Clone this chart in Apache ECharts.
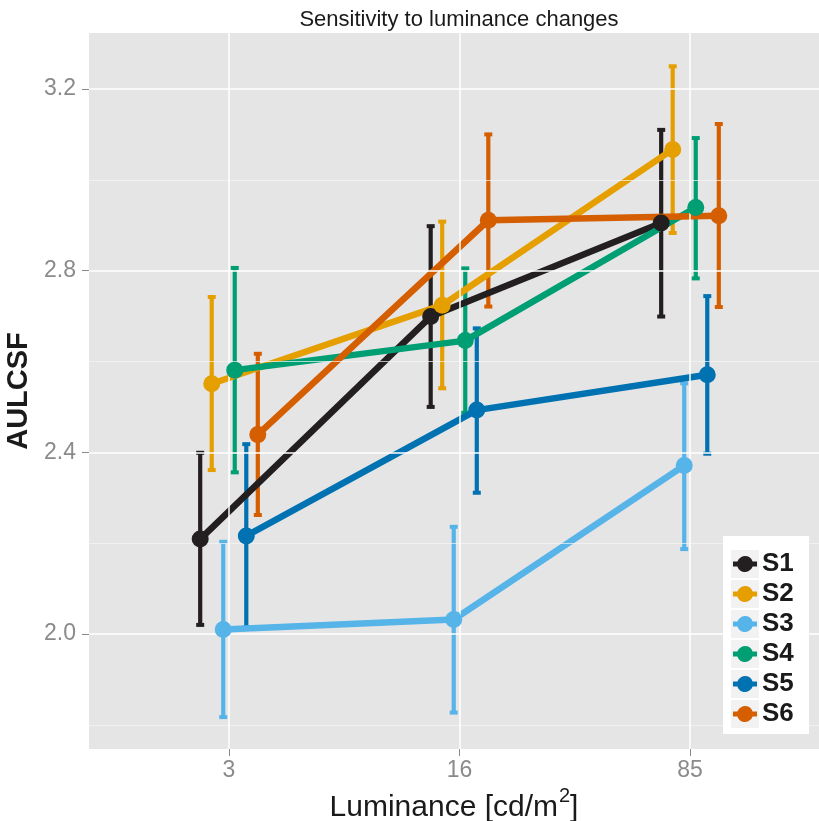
<!DOCTYPE html>
<html><head><meta charset="utf-8">
<script src="https://cdn.jsdelivr.net/npm/echarts@6/dist/echarts.min.js"></script>
<style>html,body{margin:0;padding:0;background:#fff}#c{width:819px;height:821px}</style>
</head><body><div id="c"></div>
<script>
// ---- data ----
const luminance = ['3', '16', '85'];
const subjects = ['S1', 'S2', 'S3', 'S4', 'S5', 'S6'];
const colors = ['#231F20', '#E69F00', '#56B4E9', '#009E73', '#0072B2', '#D55E00'];

const S1_mean = [2.209, 2.699, 2.905];
const S1_low  = [2.020, 2.500, 2.699];
const S1_high = [2.399, 2.898, 3.110];

const S2_mean = [2.551, 2.724, 3.067];
const S2_low  = [2.361, 2.541, 2.883];
const S2_high = [2.742, 2.908, 3.250];

const S3_mean = [2.010, 2.032, 2.371];
const S3_low  = [1.817, 1.827, 2.187];
const S3_high = [2.203, 2.236, 2.552];

const S4_mean = [2.581, 2.646, 2.939];
const S4_low  = [2.356, 2.487, 2.783];
const S4_high = [2.806, 2.805, 3.092];

const S5_mean = [2.216, 2.493, 2.571];
const S5_low  = [2.014, 2.311, 2.397];
const S5_high = [2.418, 2.673, 2.744];

const S6_mean = [2.439, 2.911, 2.921];
const S6_low  = [2.262, 2.721, 2.720];
const S6_high = [2.617, 3.100, 3.123];

const yMajorTicks = [2.0, 2.4, 2.8, 3.2];
const yMinorTicks = [1.8, 2.2, 2.6, 3.0];

const means = [S1_mean, S2_mean, S3_mean, S4_mean, S5_mean, S6_mean];
const lows  = [S1_low, S2_low, S3_low, S4_low, S5_low, S6_low];
const highs = [S1_high, S2_high, S3_high, S4_high, S5_high, S6_high];

// ---- layout / style ----
const DODGE = 0.05;
const xPos = (i, j) => (i + 1) + (j - 2.5) * DODGE;
const FONT = '"Liberation Sans", Arial, Helvetica, sans-serif';
const TICKCOL = '#8a8a8a';

const series = [];

// gridlines (through the axes' scales)
series.push({
  type: 'line', name: '_grid', data: [], z: 1, silent: true,
  markLine: {
    silent: true, symbol: 'none', animation: false,
    label: { show: false },
    lineStyle: { color: '#ffffff', type: 'solid' },
    data: [
      ...yMinorTicks.map(v => ({ yAxis: v, lineStyle: { width: 0.7, color: '#f6f6f6', type: 'solid' } })),
      ...yMajorTicks.map(v => ({ yAxis: v, lineStyle: { width: 1.5, color: '#ffffff', type: 'solid' } })),
      ...luminance.map((l, i) => ({ xAxis: i + 1, lineStyle: { width: 1.5, color: '#ffffff', type: 'solid' } }))
    ]
  }
});

subjects.forEach((s, j) => {
  // scatter points (legend entries)
  series.push({
    type: 'scatter', name: s, z: 5,
    symbol: 'circle', symbolSize: 17,
    itemStyle: { color: colors[j], opacity: 1 },
    data: means[j].map((m, i) => [xPos(i, j), m])
  });
});

subjects.forEach((s, j) => {
  series.push({
    type: 'custom', name: s + '_err', z: 2,
    itemStyle: { color: colors[j] },
    encode: { x: 0, y: [1, 2] },
    data: lows[j].map((lo, i) => [xPos(i, j), lo, highs[j][i]]),
    renderItem: function (params, api) {
      const x = api.value(0), lo = api.value(1), hi = api.value(2);
      const pLo = api.coord([x, lo]), pHi = api.coord([x, hi]);
      const c = api.visual('color');
      return {
        type: 'group', children: [
          { type: 'line', shape: { x1: pLo[0], y1: pLo[1], x2: pHi[0], y2: pHi[1] }, style: { stroke: c, lineWidth: 4.2 } },
          { type: 'rect', shape: { x: pHi[0] - 4, y: pHi[1] - 2, width: 8, height: 4 }, style: { fill: c } },
          { type: 'rect', shape: { x: pLo[0] - 4, y: pLo[1] - 2, width: 8, height: 4 }, style: { fill: c } }
        ]
      };
    }
  });
  series.push({
    type: 'line', name: s + '_line', z: 3,
    symbol: 'none',
    lineStyle: { color: colors[j], width: 6.5 },
    itemStyle: { color: colors[j] },
    data: means[j].map((m, i) => [xPos(i, j), m])
  });
});

// legend key backgrounds
const legendGraphics = [
  { type: 'rect', shape: { x: 723, y: 536, width: 86, height: 198 }, style: { fill: '#ffffff' }, z: 15 }
];
subjects.forEach((s, j) => {
  legendGraphics.push({ type: 'rect', shape: { x: 731, y: 550 + j * 30, width: 28, height: 28 }, style: { fill: '#f2f2f2' }, z: 16 });
});

const option = {
  animation: false,
  backgroundColor: '#ffffff',
  textStyle: { fontFamily: FONT },
  title: {
    text: 'Sensitivity to luminance changes',
    left: 459, top: 9, textAlign: 'center', padding: 0,
    textStyle: { fontSize: 22, fontWeight: 'normal', color: '#1a1a1a', fontFamily: FONT }
  },
  grid: {
    left: 89, right: 0, top: 33, bottom: 72,
    outerBoundsMode: 'none', containLabel: false,
    show: true, backgroundColor: '#E5E5E5', borderWidth: 0
  },
  xAxis: {
    type: 'value', min: 0.3926, max: 3.5597,
    axisLine: { show: false },
    splitLine: { show: false },
    axisTick: { show: true, customValues: [1, 2, 3], length: 7, lineStyle: { color: TICKCOL, width: 1 } },
    axisLabel: {
      customValues: [1, 2, 3],
      formatter: v => luminance[Math.round(v) - 1],
      fontSize: 23, color: TICKCOL, margin: 10, fontFamily: FONT
    },
    name: '{n|Luminance [cd/m}{s|2}{n|]}',
    nameLocation: 'middle', nameGap: 36,
    nameTextStyle: {
      fontFamily: FONT, color: '#1a1a1a',
      rich: {
        n: { fontSize: 30, fontFamily: FONT, color: '#1a1a1a', verticalAlign: 'bottom', lineHeight: 36 },
        s: { fontSize: 20, fontFamily: FONT, color: '#1a1a1a', verticalAlign: 'top', lineHeight: 36, padding: [0, 0, 0, 1] }
      }
    }
  },
  yAxis: {
    type: 'value', min: 1.7468, max: 3.3233,
    axisLine: { show: false },
    splitLine: { show: false },
    axisTick: { show: true, customValues: yMajorTicks, length: 7, lineStyle: { color: TICKCOL, width: 1 } },
    axisLabel: {
      customValues: yMajorTicks,
      formatter: v => v.toFixed(1),
      fontSize: 23, color: TICKCOL, margin: 13, fontFamily: FONT
    },
    name: 'AULCSF', nameLocation: 'middle', nameGap: 54,
    nameTextStyle: { fontSize: 29, fontWeight: 'bold', color: '#1a1a1a', fontFamily: FONT }
  },
  legend: {
    data: subjects,
    orient: 'vertical',
    left: 733, top: 550, padding: 0,
    itemGap: 2, itemWidth: 24, itemHeight: 16,
    icon: 'path://M0,5.6L4.368,5.6A8,8,0,0,1,19.632,5.6L24,5.6L24,10.4L19.632,10.4A8,8,0,0,1,4.368,10.4L0,10.4Z',
    z: 20,
    selectedMode: false,
    textStyle: { fontSize: 26, fontWeight: 'bold', color: '#1a1a1a', fontFamily: FONT, lineHeight: 28, padding: [0, 0, 0, 0] }
  },
  graphic: { elements: legendGraphics },
  series: series
};

const chart = echarts.init(document.getElementById('c'), null, { renderer: 'canvas' });
chart.setOption(option);
</script>
</body></html>
